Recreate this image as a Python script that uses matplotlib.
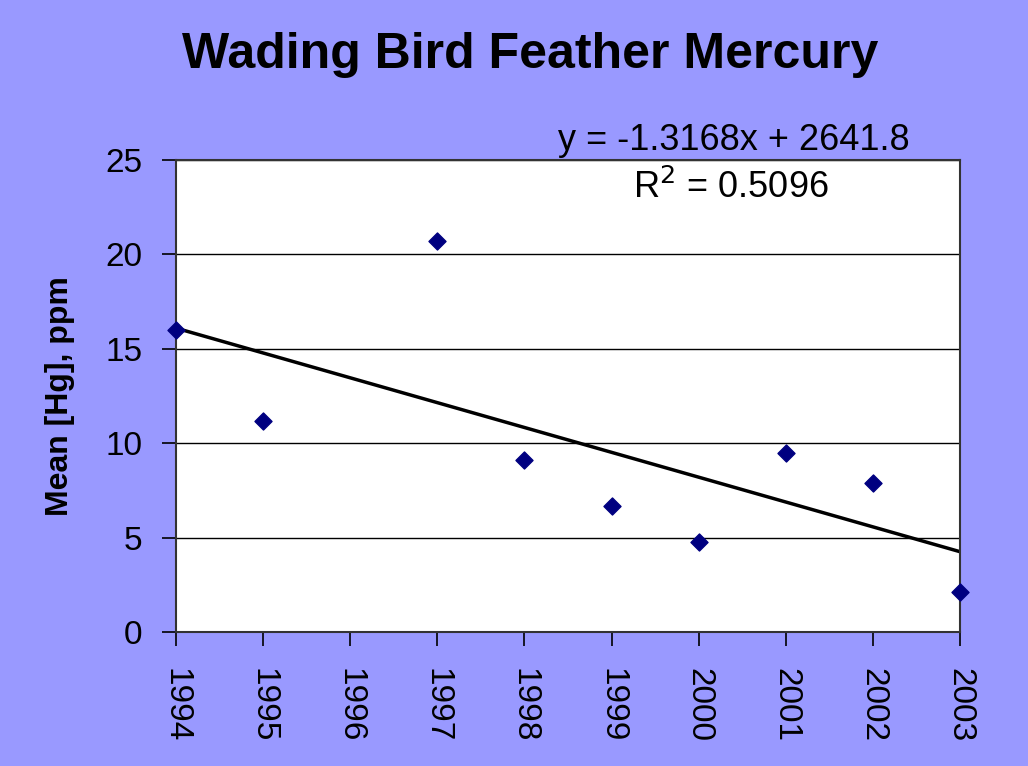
import matplotlib.pyplot as plt
import numpy as np

# data
years = [1994, 1995, 1997, 1998, 1999, 2000, 2001, 2002, 2003]
hg_ppm = [16.0, 11.2, 20.7, 9.1, 6.65, 4.75, 9.5, 7.9, 2.1]
tick_years = list(range(1994, 2004))

# trendline as printed on the chart
slope = -1.3168
intercept = 2641.8
r2 = 0.5096

plt.rcParams["font.family"] = ["Liberation Sans", "DejaVu Sans"]

bg = "#9999FF"
fig = plt.figure(figsize=(10.28, 7.66), dpi=100, facecolor=bg)
ax = fig.add_axes([0.171, 0.175, 0.763, 0.616])
ax.set_facecolor("white")

ax.scatter(years, hg_ppm, marker="D", s=75, color="#000080", zorder=3, clip_on=False)

tx = np.array([tick_years[0], tick_years[-1]])
ax.plot(tx, slope * tx + intercept, color="black", lw=2.5, zorder=2)

ax.set_xlim(1994, 2003)
ax.set_ylim(0, 25)
ax.set_yticks([0, 5, 10, 15, 20, 25])
ax.set_xticks(tick_years)
ax.set_xticklabels([str(y) for y in tick_years], rotation=-90, va="top")
ax.grid(axis="y", color="black", lw=1)
ax.set_axisbelow(True)

ax.tick_params(axis="both", direction="out", length=10, width=1.2, labelsize=24)
ax.tick_params(axis="y", pad=14)
ax.tick_params(axis="x", pad=16)
for s in ax.spines.values():
    s.set_color("#333333")
    s.set_linewidth(1.5)

ax.set_ylabel("Mean [Hg], ppm", fontsize=23, fontweight="bold", labelpad=22)

fig.text(0.516, 0.928, "Wading Bird Feather Mercury", ha="center", va="center",
         fontsize=36, fontweight="bold")

ax.text(0.936, 1.042, f"y = {slope}x + {intercept}", transform=ax.transAxes,
        ha="right", va="center", fontsize=26)
ax.text(0.832, 0.941, f"R$^2$ = {r2}", transform=ax.transAxes,
        ha="right", va="center", fontsize=26)

fig.savefig("out.png", dpi=100, facecolor=bg)
